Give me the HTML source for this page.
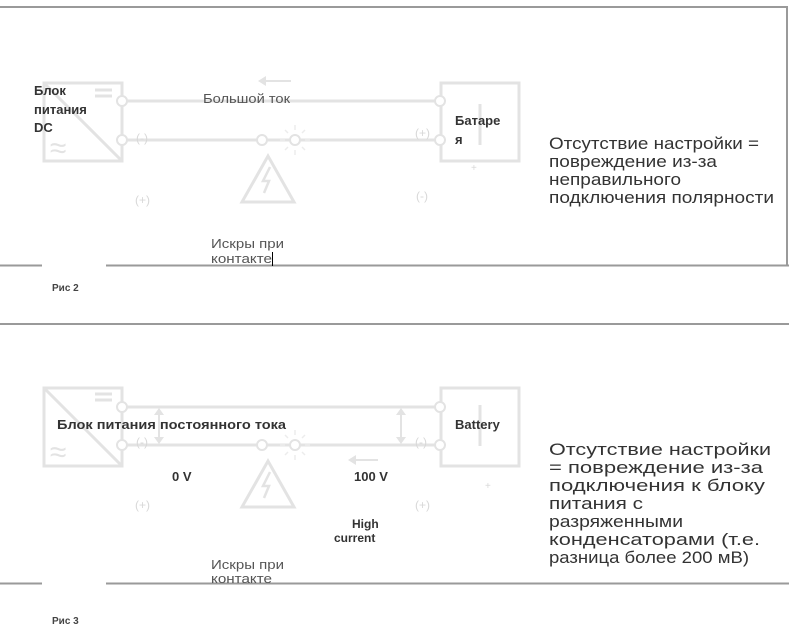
<!DOCTYPE html>
<html><head><meta charset="utf-8"><style>
html,body{margin:0;padding:0;background:#fff;}
svg{display:block;font-family:"Liberation Sans",sans-serif;}
</style></head><body>
<svg width="789" height="636" viewBox="0 0 789 636" xmlns="http://www.w3.org/2000/svg">
<g stroke="#9a9a9a" stroke-width="2" fill="none">
<line x1="0" y1="7" x2="788" y2="7"/>
<line x1="787" y1="7" x2="787" y2="266"/>
<line x1="0" y1="265.5" x2="42" y2="265.5"/>
<line x1="106" y1="265.5" x2="789" y2="265.5"/>
<line x1="0" y1="324" x2="789" y2="324"/>
<line x1="0" y1="583.5" x2="42" y2="583.5"/>
<line x1="106" y1="583.5" x2="789" y2="583.5"/>
</g>

<!-- Fig 2 diagram -->
<g stroke="#e3e3e3" stroke-width="3" fill="none">
<rect x="44" y="83" width="78" height="78"/>
<line x1="44" y1="83" x2="122" y2="161"/>
<rect x="441" y="83" width="78" height="78"/>
<line x1="126" y1="101" x2="436" y2="101"/>
<line x1="126" y1="140" x2="258" y2="140"/>
<line x1="266" y1="140" x2="291" y2="140"/>
<line x1="299" y1="140" x2="436" y2="140"/>
<line x1="95" y1="90" x2="112" y2="90"/><line x1="95" y1="96" x2="112" y2="96"/>
<line x1="480" y1="104" x2="480" y2="145"/>
<line x1="263" y1="81" x2="291" y2="81" stroke-width="2"/>
<polygon points="242,202 268,156 294,202"/>
</g>
<polygon points="258,81 266,76 266,86" fill="#e3e3e3"/>
<text x="50" y="158" font-size="30" fill="#e3e3e3">≈</text>
<g fill="#fff" stroke="#e3e3e3" stroke-width="2">
<circle cx="122" cy="101" r="5"/><circle cx="122" cy="140" r="5"/>
<circle cx="440" cy="101" r="5"/><circle cx="440" cy="140" r="5"/>
<circle cx="262" cy="140" r="5"/><circle cx="295" cy="140" r="5"/>
</g>
<g stroke="#ececec" stroke-width="1.5">
<line x1="295" y1="125" x2="295" y2="130"/><line x1="295" y1="150" x2="295" y2="155"/>
<line x1="280" y1="140" x2="285" y2="140"/><line x1="305" y1="140" x2="310" y2="140"/>
<line x1="285" y1="130" x2="288" y2="133"/><line x1="302" y1="147" x2="305" y2="150"/>
<line x1="305" y1="130" x2="302" y2="133"/><line x1="288" y1="147" x2="285" y2="150"/>
</g>
<path d="M270 167 L263 181 L269 181 L264 193" stroke="#e3e3e3" stroke-width="2.5" fill="none"/>
<g fill="#d8d8d8" font-size="12">
<text x="136" y="142">(-)</text><text x="135" y="204">(+)</text>
<text x="415" y="137">(+)</text><text x="416" y="200">(-)</text>
<text x="471" y="171" font-size="10">+</text>
</g>
<g fill="#333" font-size="13" font-weight="bold">
<text x="34" y="95">Блок</text><text x="34" y="114">питания</text><text x="34" y="132">DC</text>
<text x="455" y="125">Батаре</text><text x="455" y="144">я</text>
</g>
<text x="203" y="103" font-size="13" fill="#555" textLength="87" lengthAdjust="spacingAndGlyphs">Большой ток</text>
<text x="211" y="248" font-size="13" fill="#555" textLength="73" lengthAdjust="spacingAndGlyphs">Искры при</text>
<text x="211" y="263" font-size="13" fill="#555" textLength="61" lengthAdjust="spacingAndGlyphs">контакте</text>
<line x1="272.5" y1="252" x2="272.5" y2="266" stroke="#000" stroke-width="1"/>
<text x="52" y="291" font-size="10" font-weight="bold" fill="#444">Рис 2</text>
<g fill="#333" font-size="17" lengthAdjust="spacingAndGlyphs">
<text x="549" y="149" textLength="210" lengthAdjust="spacingAndGlyphs">Отсутствие настройки =</text>
<text x="549" y="167" textLength="168" lengthAdjust="spacingAndGlyphs">повреждение из-за</text>
<text x="549" y="185" textLength="132" lengthAdjust="spacingAndGlyphs">неправильного</text>
<text x="549" y="203" textLength="225" lengthAdjust="spacingAndGlyphs">подключения полярности</text>
</g>

<!-- Fig 3 diagram -->
<g stroke="#e3e3e3" stroke-width="3" fill="none">
<rect x="44" y="388" width="78" height="78"/>
<line x1="44" y1="388" x2="122" y2="466"/>
<rect x="441" y="388" width="78" height="78"/>
<line x1="126" y1="407" x2="436" y2="407"/>
<line x1="126" y1="445" x2="258" y2="445"/>
<line x1="266" y1="445" x2="291" y2="445"/>
<line x1="299" y1="445" x2="436" y2="445"/>
<line x1="95" y1="394" x2="112" y2="394"/><line x1="95" y1="400" x2="112" y2="400"/>
<line x1="480" y1="405" x2="480" y2="446"/>
<line x1="353" y1="460" x2="378" y2="460" stroke-width="2"/>
<polygon points="242,507 268,461 294,507"/>
<line x1="159" y1="412" x2="159" y2="440" stroke-width="2"/>
<line x1="401" y1="412" x2="401" y2="440" stroke-width="2"/>
</g>
<g fill="#e3e3e3">
<polygon points="348,460 356,455 356,465"/>
<polygon points="159,408 154,415 164,415"/><polygon points="159,444 154,437 164,437"/>
<polygon points="401,408 396,415 406,415"/><polygon points="401,444 396,437 406,437"/>
</g>
<text x="50" y="462" font-size="30" fill="#e3e3e3">≈</text>
<g fill="#fff" stroke="#e3e3e3" stroke-width="2">
<circle cx="122" cy="407" r="5"/><circle cx="122" cy="445" r="5"/>
<circle cx="440" cy="407" r="5"/><circle cx="440" cy="445" r="5"/>
<circle cx="262" cy="445" r="5"/><circle cx="295" cy="445" r="5"/>
</g>
<g stroke="#ececec" stroke-width="1.5">
<line x1="295" y1="430" x2="295" y2="435"/><line x1="295" y1="455" x2="295" y2="460"/>
<line x1="280" y1="445" x2="285" y2="445"/><line x1="305" y1="445" x2="310" y2="445"/>
<line x1="285" y1="435" x2="288" y2="438"/><line x1="302" y1="452" x2="305" y2="455"/>
<line x1="305" y1="435" x2="302" y2="438"/><line x1="288" y1="452" x2="285" y2="455"/>
</g>
<path d="M270 472 L263 486 L269 486 L264 498" stroke="#e3e3e3" stroke-width="2.5" fill="none"/>
<g fill="#d8d8d8" font-size="12">
<text x="136" y="446">(-)</text><text x="135" y="509">(+)</text>
<text x="415" y="446">(-)</text><text x="415" y="509">(+)</text>
<text x="485" y="489" font-size="10">+</text>
</g>
<g fill="#333" font-size="13" font-weight="bold">
<text x="57" y="429" textLength="229" lengthAdjust="spacingAndGlyphs">Блок питания постоянного тока</text>
<text x="455" y="429">Battery</text>
<text x="172" y="481">0 V</text>
<text x="354" y="481">100 V</text>
<text x="352" y="528" font-size="12">High</text>
<text x="334" y="542" font-size="12">current</text>
</g>
<text x="211" y="569" font-size="13" fill="#555" textLength="73" lengthAdjust="spacingAndGlyphs">Искры при</text>
<text x="211" y="583" font-size="13" fill="#555" textLength="61" lengthAdjust="spacingAndGlyphs">контакте</text>
<text x="52" y="624" font-size="10" font-weight="bold" fill="#444">Рис 3</text>
<g fill="#333" font-size="17">
<text x="549" y="455" textLength="222" lengthAdjust="spacingAndGlyphs">Отсутствие настройки</text>
<text x="549" y="473" textLength="214" lengthAdjust="spacingAndGlyphs">= повреждение из-за</text>
<text x="549" y="491" textLength="216" lengthAdjust="spacingAndGlyphs">подключения к блоку</text>
<text x="549" y="509" textLength="94" lengthAdjust="spacingAndGlyphs">питания с</text>
<text x="549" y="527" textLength="134" lengthAdjust="spacingAndGlyphs">разряженными</text>
<text x="549" y="545" textLength="211" lengthAdjust="spacingAndGlyphs">конденсаторами (т.е.</text>
<text x="549" y="563" textLength="200" lengthAdjust="spacingAndGlyphs">разница более 200 мВ)</text>
</g>
</svg>
</body></html>
